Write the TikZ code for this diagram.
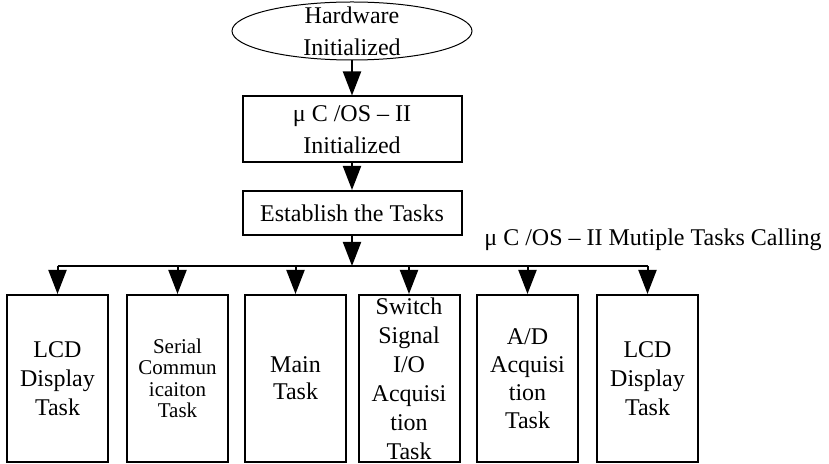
\documentclass[tikz,border=0pt]{standalone}
\usepackage{fontspec}
\setmainfont{Liberation Serif}
\usetikzlibrary{arrows.meta,shapes.geometric}
\tikzset{
  flow/.style={line width=1pt, -{Triangle[length=12pt,width=9pt]}},
  stagebox/.style={draw, line width=1pt, minimum width=109.5pt, align=center, inner sep=1pt},
  taskbox/.style={draw, line width=1pt, minimum width=50.5pt, minimum height=83.5pt, align=center, inner sep=0pt},
}

\begin{document}
\begin{tikzpicture}[x=0.5pt, y=-0.5pt, font=\fontsize{12}{16}\selectfont]
  \useasboundingbox (0,0) rectangle (829,464);
  \node[draw, ellipse, line width=0.5pt, minimum width=120pt, minimum height=29pt, inner sep=0pt] (hw) at (352,31) {};
  \node[align=center, inner sep=0pt] (hwtext) at (hw.center) {Hardware\\Initialized};
  \node[stagebox, minimum height=33pt] (os) at (352,129.5) {μ C /OS – II\\Initialized};
  \node[stagebox, minimum height=22pt] (est) at (352,213) {Establish the Tasks};
  \node[anchor=west, inner sep=0pt] (calling) at (484,240) {μ C /OS – II Mutiple Tasks Calling};
  \coordinate (bus) at (352,266);
   \node[taskbox, font=\fontsize{12}{14.5}\selectfont] (t1) at (57.5,378.5) {LCD\\Display\\Task};
   \node[taskbox, font=\fontsize{10.5}{10.7}\selectfont] (t2) at (177.5,378.5) {Serial\\Commun\\icaiton\\Task};
   \node[taskbox, font=\fontsize{12}{13.5}\selectfont] (t3) at (295.5,378.5) {Main\\Task};
   \node[taskbox, font=\fontsize{12}{14.5}\selectfont] (t4) at (409,378.5) {Switch\\Signal\\I/O\\Acquisi\\tion\\Task};
   \node[taskbox, font=\fontsize{12}{14}\selectfont] (t5) at (527.5,378.5) {A/D\\Acquisi\\tion\\Task};
   \node[taskbox, font=\fontsize{12}{14.5}\selectfont] (t6) at (647.5,378.5) {LCD\\Display\\Task};
  \draw[flow] (hw) -- (os);
  \draw[flow] (os) -- (est);
  \draw[flow] (est) -- (bus);
  \draw[line width=1pt] (t1.north |- bus) -- (t6.north |- bus);
  \foreach \t in {t1,t2,t3,t4,t5,t6}
    \draw[flow] (\t.north |- bus) -- (\t.north);
\end{tikzpicture}
\end{document}
